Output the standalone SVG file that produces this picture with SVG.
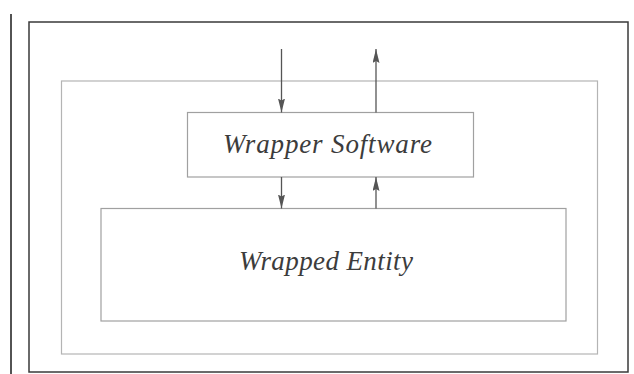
<svg xmlns="http://www.w3.org/2000/svg" width="634" height="374" viewBox="0 0 634 374">
  <defs>
    <style>
      .frame { fill: none; stroke: #3a3a3a; stroke-width: 1.5; }
      .zone { fill: none; stroke: #b4b4b4; stroke-width: 1.2; }
      .box { fill: #ffffff; stroke: #a0a0a0; stroke-width: 1.2; }
      .label { font-family: "Liberation Serif", "Times New Roman", serif; font-style: italic; font-size: 27px; fill: #3c3c3c; text-anchor: start; }
      .flow { stroke: #555555; stroke-width: 1.3; fill: none; }
    </style>
    <marker id="head" viewBox="0 0 14 7" refX="14" refY="3.5" markerWidth="14" markerHeight="7" markerUnits="userSpaceOnUse" orient="auto">
      <path d="M0,0 L14,3.5 L0,7 L2,3.5 Z" fill="#555555"/>
    </marker>
  </defs>

  <rect width="634" height="374" fill="#ffffff"/>

  <!-- margin rule on the left -->
  <line x1="11" y1="14" x2="11" y2="374" stroke="#1a1a1a" stroke-width="1.5"/>

  <!-- outer frame -->
  <rect class="frame" x="29" y="22" width="599" height="350"/>

  <!-- system boundary -->
  <rect class="zone" x="61.5" y="81" width="536" height="273"/>

  <g id="wrapper-software">
    <rect class="box" x="187.5" y="112.5" width="286" height="64.5"/>
    <text class="label" x="223" y="153" textLength="209" lengthAdjust="spacing">Wrapper Software</text>
  </g>

  <g id="wrapped-entity">
    <rect class="box" x="101" y="208.5" width="465" height="112.5"/>
    <text class="label" x="239" y="270" textLength="174" lengthAdjust="spacing">Wrapped Entity</text>
  </g>

  <g id="connectors">
    <line class="flow" x1="281.5" y1="49" x2="281.5" y2="112.5" marker-end="url(#head)"/>
    <line class="flow" x1="376" y1="112.5" x2="376" y2="49" marker-end="url(#head)"/>
    <line class="flow" x1="281.5" y1="177" x2="281.5" y2="208.5" marker-end="url(#head)"/>
    <line class="flow" x1="376" y1="208.5" x2="376" y2="177" marker-end="url(#head)"/>
  </g>
</svg>
